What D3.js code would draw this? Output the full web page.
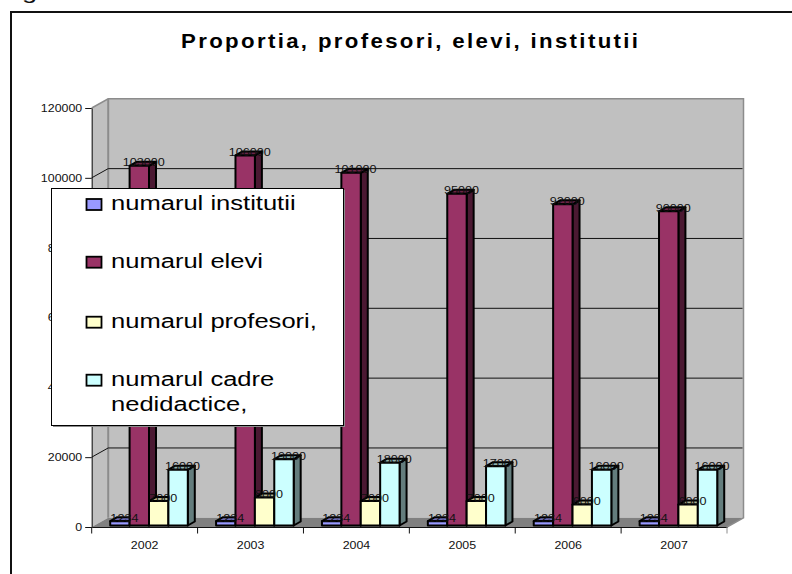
<!DOCTYPE html>
<html><head><meta charset="utf-8">
<script src="https://cdnjs.cloudflare.com/ajax/libs/d3/7.8.5/d3.min.js"></script>
<style>html,body{margin:0;padding:0;background:#fff;overflow:hidden}svg{display:block}text{font-family:"Liberation Sans",Arial,sans-serif}</style>
</head><body><svg id="c" width="792" height="574"></svg>
<script>
const titleText = "Proportia, profesori, elevi, institutii";
const years = ["2002","2003","2004","2005","2006","2007"];
const seriesNames = ["numarul institutii","numarul elevi","numarul profesori,","numarul cadre"];
const legendSecondLine = ["","","","nedidactice,"];
const institutii = [1234,1234,1234,1234,1234,1234];
const elevi = [103000,106000,101000,95000,92000,90000];
const profesori = [7000,8000,7000,7000,6000,6000];
const cadre = [16000,19000,18000,17000,16000,16000];
const yTicks = [0,20000,40000,60000,80000,100000,120000];
const allSeries = [institutii,elevi,profesori,cadre];
const faceColors = ["#9999FF","#993366","#FFFFCC","#CCFFFF"];

const svg = d3.select("#c");
const depthX = 16.5, depthY = -9.2, barDX = 7, barDY = -4, baseInset = 1.5;
const x = d3.scaleBand().domain(years).range([91.7,727]);
const inner = d3.scaleBand().domain(d3.range(4)).range([18.5,96.1]);
const y = d3.scaleLinear().domain([0,120000]).range([527,108]);
const stretch = (sel,f)=>sel.each(function(){
  const w=this.getComputedTextLength();
  this.setAttribute("textLength",w*f);
  this.setAttribute("lengthAdjust","spacingAndGlyphs");
});
const x0=x.range()[0], x1=x.range()[1];
const poly=(g,pts,fill,stroke,sw)=>g.append("polygon").attr("points",pts.map(p=>p.join(",")).join(" ")).attr("fill",fill).attr("stroke",stroke||"none").attr("stroke-width",sw||0).attr("stroke-linejoin","round");

// stray document glyph and chart frame
svg.append("text").attr("x",22).attr("y",-1).attr("font-size",21).attr("fill","#111").text("g").call(stretch,1.3);
svg.append("path").attr("d","M11,574V12H792").attr("fill","none").attr("stroke","#111").attr("stroke-width",2);
const titleScale=1.14;
svg.append("text").attr("transform",`translate(409.5,47.5) scale(${titleScale},1)`).attr("text-anchor","middle").attr("font-size",19.5).attr("font-weight","bold").attr("fill","#000")
  .attr("textLength",457/titleScale).attr("lengthAdjust","spacing").text(titleText);

// 3D walls
const walls=svg.append("g");
poly(walls,[[x0+depthX,y(120000)+depthY],[x1+depthX,y(120000)+depthY],[x1+depthX,y(0)+depthY],[x0+depthX,y(0)+depthY]],"#C0C0C0");
poly(walls,[[x0,y(120000)],[x0+depthX,y(120000)+depthY],[x0+depthX,y(0)+depthY],[x0,y(0)]],"#C0C0C0");
poly(walls,[[x0,y(0)],[x0+depthX,y(0)+depthY],[x1+depthX,y(0)+depthY],[x1,y(0)]],"#808080");
walls.append("path").attr("d",`M${x0},${y(120000)}L${x0+depthX},${y(120000)+depthY}H${x1+depthX}V${y(0)+depthY}L${x1},${y(0)}`).attr("fill","none").attr("stroke","#8c8c8c").attr("stroke-width",1.5);
walls.append("line").attr("x1",x0+depthX).attr("x2",x0+depthX).attr("y1",y(120000)+depthY).attr("y2",y(0)+depthY).attr("stroke","#8c8c8c").attr("stroke-width",2);

// gridlines
const grid=svg.append("g").attr("fill","none").attr("stroke","#111").attr("stroke-width",1);
yTicks.filter(t=>t>0&&t<120000).forEach(t=>{
  grid.append("path").attr("d",`M${x0},${y(t)}L${x0+depthX},${y(t)+depthY}H${x1+depthX-1}`);
});

// axes
const yAxis=svg.append("g").attr("transform",`translate(${x0},0)`).call(d3.axisLeft(y).tickValues(yTicks).tickSize(6.5).tickSizeOuter(0).tickFormat(d3.format("d")));
yAxis.selectAll("line,path").attr("stroke","#111");
yAxis.selectAll("text").attr("font-size",10.5).attr("fill","#111").attr("x",-9.5).attr("font-family",'"Liberation Sans"').call(stretch,1.18);
const xAxis=svg.append("g").attr("transform",`translate(0,${y(0)})`).call(d3.axisBottom(x).tickSize(0).tickSizeOuter(0));
xAxis.select("path").attr("stroke","#111");
xAxis.selectAll("text").attr("font-size",10.5).attr("fill","#111").attr("y",19).attr("dy",0).attr("dominant-baseline","middle").attr("font-family",'"Liberation Sans"').call(stretch,1.18);
const edges=years.map(d=>x(d)).concat([x1]);
svg.append("g").selectAll("line").data(edges).join("line").attr("x1",d=>d).attr("x2",d=>d).attr("y1",y(0)).attr("y2",y(0)+6.5).attr("stroke",(d,i)=>i===6?"#8c8c8c":"#111");

// bars
const bars=svg.append("g");
years.forEach((yr,i)=>{
  allSeries.forEach((vals,s)=>{
    const v=vals[i], l=x(yr)+inner(s), r=l+inner.bandwidth(), t=y(v)-baseInset, b=y(0)-baseInset;
    const base=d3.color(faceColors[s]);
    const side=base.darker(2).formatHex(), top=base.darker(1).formatHex();
    const g=bars.append("g");
    poly(g,[[r,t],[r+barDX,t+barDY],[r+barDX,b+barDY],[r,b]],side,"#000",2);
    poly(g,[[l,t],[l+barDX,t+barDY],[r+barDX,t+barDY],[r,t]],top,"#000",2);
    poly(g,[[l,t],[r,t],[r,b],[l,b]],faceColors[s],"#000",2);
  });
});
// data labels
const labels=svg.append("g");
years.forEach((yr,i)=>{
  allSeries.forEach((vals,s)=>{
    const v=vals[i];
    labels.append("text").attr("x",x(yr)+inner(s)+inner.bandwidth()/2+4.5).attr("y",y(v)-baseInset+0.5)
      .attr("text-anchor","middle").attr("font-size",10.5).attr("fill","#111").text(d3.format("d")(v)).call(stretch,1.2);
  });
});

// legend
const lg=svg.append("g");
lg.append("rect").attr("x",53).attr("y",190).attr("width",292).attr("height",237).attr("fill","#8c8c8c");
lg.append("rect").attr("x",51.5).attr("y",188.5).attr("width",292).attr("height",237).attr("fill","#fff").attr("stroke","#000").attr("stroke-width",1);
const legendY=[210,267.7,327.7,385.7];
seriesNames.forEach((n,s)=>{
  lg.append("rect").attr("x",86.5).attr("y",legendY[s]-11).attr("width",15).attr("height",11).attr("fill",faceColors[s]).attr("stroke","#000").attr("stroke-width",1.8);
  lg.append("text").attr("x",111).attr("y",legendY[s]).attr("font-size",19.5).attr("fill","#000").text(n).call(stretch,1.31);
  if(legendSecondLine[s]) lg.append("text").attr("x",111).attr("y",legendY[s]+25).attr("font-size",19.5).attr("fill","#000").text(legendSecondLine[s]).call(stretch,1.31);
});
</script></body></html>
